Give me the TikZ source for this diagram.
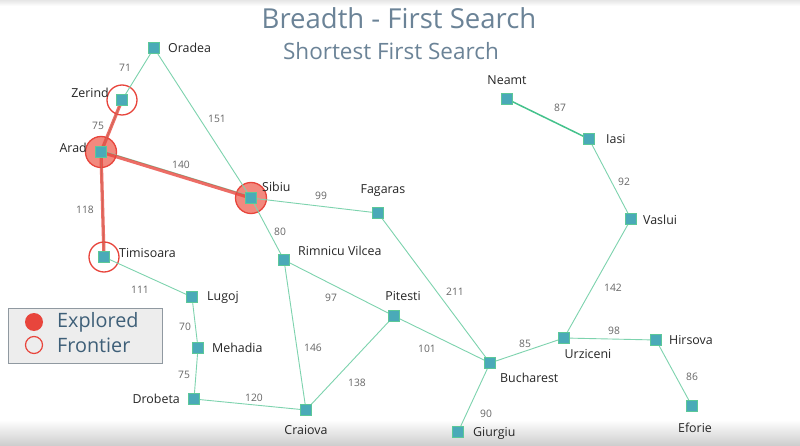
\documentclass[tikz,border=0pt]{standalone}
\usepackage{fontspec}
\setmainfont{Open Sans}
\pgfdeclarelayer{bg}
\pgfdeclarelayer{back}
\pgfsetlayers{back,bg,main}
\definecolor{road}{HTML}{7DD3AE}
\definecolor{roaddark}{HTML}{45C28C}
\definecolor{sq}{HTML}{4AAAB8}
\definecolor{sqb}{HTML}{5CC898}
\definecolor{redc}{HTML}{E8453C}
\definecolor{salmon}{HTML}{F2897E}
\definecolor{ttl}{HTML}{6B8397}
\definecolor{wgt}{HTML}{666666}
\definecolor{legtxt}{HTML}{3E5F78}
\begin{document}
\begin{tikzpicture}[x=1pt,y=-1pt,
  city/.style={rectangle,fill=sq,draw=sqb,line width=1pt,minimum size=11pt,inner sep=0pt},
  lab/.style={font=\fontsize{12.4}{14}\selectfont,text=black!85,inner sep=0pt},
  wt/.style={font=\fontsize{10.3}{12}\selectfont,text=wgt,inner sep=0pt},
  roadline/.style={draw=road,line width=0.9pt},
  pathline/.style={draw=redc,line width=3.3pt,draw opacity=0.78},
  explored/.style={circle,fill=salmon,draw=redc,line width=1.3pt,minimum size=31pt,inner sep=0pt},
  frontier/.style={circle,draw=redc,line width=1.3pt,minimum size=30pt,inner sep=0pt}]
\useasboundingbox (0,0) rectangle (800,446);
\begin{pgfonlayer}{back}
\fill[white] (0,0) rectangle (800,446);
\shade[top color=white,bottom color=black!20] (0,420) rectangle (800,446);
\shade[top color=black!10,bottom color=white] (0,0) rectangle (800,6);
\end{pgfonlayer}
% titles
\node[font=\fontsize{27.5}{32}\selectfont,text=ttl] (t1) at (399,18) {Breadth - First Search};
\node[font=\fontsize{22.5}{26}\selectfont,text=ttl] (t2) at (391,51) {Shortest First Search};
% cities
\node[city] (oradea) at (154,48) {};
\node[city] (zerind) at (122,100) {};
\node[city] (arad) at (101,152) {};
\node[city] (sibiu) at (251,198) {};
\node[city] (timisoara) at (104,257) {};
\node[city] (fagaras) at (378,213) {};
\node[city] (rimnicu) at (284,260) {};
\node[city] (lugoj) at (192,297) {};
\node[city] (mehadia) at (198,348) {};
\node[city] (drobeta) at (194,399) {};
\node[city] (craiova) at (306,410) {};
\node[city] (pitesti) at (394,316) {};
\node[city] (bucharest) at (490,363) {};
\node[city] (giurgiu) at (458,432) {};
\node[city] (urziceni) at (564,338) {};
\node[city] (hirsova) at (656,340) {};
\node[city] (eforie) at (692,406) {};
\node[city] (vaslui) at (631,219) {};
\node[city] (iasi) at (589,139) {};
\node[city] (neamt) at (507,99) {};
% circles
\begin{pgfonlayer}{bg}
\node[explored] (carad) at (arad) {};
\node[explored] (csibiu) at (sibiu) {};
\node[frontier] (czerind) at (zerind) {};
\node[frontier] (ctimisoara) at (timisoara) {};
% roads under path
\draw[roadline] (arad.center) -- (zerind.center);
\draw[roadline] (arad.center) -- (timisoara.center);
\draw[roadline,transform canvas={yshift=1.6pt}] (arad.center) -- (sibiu.center);
% path edges
\draw[pathline] (arad.center) -- (zerind.center);
\draw[pathline] (arad.center) -- (sibiu.center);
\draw[pathline] (arad.center) -- (timisoara.center);
% roads
\draw[roadline] (oradea.center) -- (zerind.center);
\draw[roadline] (oradea.center) -- (sibiu.center);
\draw[roadline] (sibiu.center) -- (fagaras.center);
\draw[roadline] (sibiu.center) -- (rimnicu.center);
\draw[roadline] (fagaras.center) -- (bucharest.center);
\draw[roadline] (rimnicu.center) -- (pitesti.center);
\draw[roadline] (rimnicu.center) -- (craiova.center);
\draw[roadline] (pitesti.center) -- (craiova.center);
\draw[roadline] (pitesti.center) -- (bucharest.center);
\draw[roadline] (timisoara.center) -- (lugoj.center);
\draw[roadline] (lugoj.center) -- (mehadia.center);
\draw[roadline] (mehadia.center) -- (drobeta.center);
\draw[roadline] (drobeta.center) -- (craiova.center);
\draw[roadline] (bucharest.center) -- (giurgiu.center);
\draw[roadline] (bucharest.center) -- (urziceni.center);
\draw[roadline] (urziceni.center) -- (hirsova.center);
\draw[roadline] (hirsova.center) -- (eforie.center);
\draw[roadline] (urziceni.center) -- (vaslui.center);
\draw[roadline] (vaslui.center) -- (iasi.center);
\draw[draw=roaddark,line width=1.5pt] (iasi.center) -- (neamt.center);
\end{pgfonlayer}
% weights
\node[wt] (w1) at (125,68) {71};
\node[wt] (w2) at (217,119) {151};
\node[wt] (w3) at (98,126) {75};
\node[wt] (w4) at (181,165) {140};
\node[wt] (w5) at (85,210) {118};
\node[wt] (w6) at (321,196) {99};
\node[wt] (w7) at (280,232) {80};
\node[wt] (w8) at (455,292) {211};
\node[wt] (w9) at (331,298) {97};
\node[wt] (w10) at (313,348) {146};
\node[wt] (w11) at (357,383) {138};
\node[wt] (w12) at (427,349) {101};
\node[wt] (w13) at (140,290) {111};
\node[wt] (w14) at (185,327) {70};
\node[wt] (w15) at (184,375) {75};
\node[wt] (w16) at (254,398) {120};
\node[wt] (w17) at (525,344) {85};
\node[wt] (w18) at (486,414) {90};
\node[wt] (w19) at (614,331) {98};
\node[wt] (w20) at (692,377) {86};
\node[wt] (w21) at (613,288) {142};
\node[wt] (w22) at (624,182) {92};
\node[wt] (w23) at (560,108) {87};
% labels
\node[lab,anchor=west] (loradea) at (168,48) {Oradea};
\node[lab,anchor=east] (lzerind) at (109,93) {Zerind};
\node[lab,anchor=east] (larad) at (87,148) {Arad};
\node[lab,anchor=west] (lsibiu) at (262,187) {Sibiu};
\node[lab,anchor=west] (ltimisoara) at (119,253) {Timisoara};
\node[lab] (lfagaras) at (383,191) {Fagaras};
\node[lab,anchor=west] (lrimnicu) at (298,251) {Rimnicu Vilcea};
\node[lab,anchor=west] (llugoj) at (207,297) {Lugoj};
\node[lab,anchor=west] (lmehadia) at (212,348) {Mehadia};
\node[lab,anchor=east] (ldrobeta) at (180,399) {Drobeta};
\node[lab] (lcraiova) at (306,430) {Craiova};
\node[lab] (lpitesti) at (403,296) {Pitesti};
\node[lab,anchor=west] (lbucharest) at (500,378) {Bucharest};
\node[lab,anchor=west] (lgiurgiu) at (473,433) {Giurgiu};
\node[lab] (lurziceni) at (588,354) {Urziceni};
\node[lab,anchor=west] (lhirsova) at (669,340) {Hirsova};
\node[lab] (leforie) at (695,428) {Eforie};
\node[lab,anchor=west] (lvaslui) at (643,220) {Vaslui};
\node[lab,anchor=west] (liasi) at (606,139) {Iasi};
\node[lab] (lneamt) at (507,80) {Neamt};
% legend
\node[draw=black!35!ttl!60,fill=black!7,line width=0.8pt,minimum width=154pt,minimum height=55pt,inner sep=0pt] (legend) at (85,335.5) {};
\node[circle,fill=redc,minimum size=18pt,inner sep=0pt] (lex) at (34,322) {};
\node[circle,draw=redc,line width=1.2pt,minimum size=17pt,inner sep=0pt] (lfr) at (34,345) {};
\node[anchor=west,font=\fontsize{19.8}{22}\selectfont,text=legtxt,inner sep=0pt] (tex) at (57,322) {Explored};
\node[anchor=west,font=\fontsize{19.8}{22}\selectfont,text=legtxt,inner sep=0pt] (tfr) at (57,345) {Frontier};
\end{tikzpicture}
\end{document}
